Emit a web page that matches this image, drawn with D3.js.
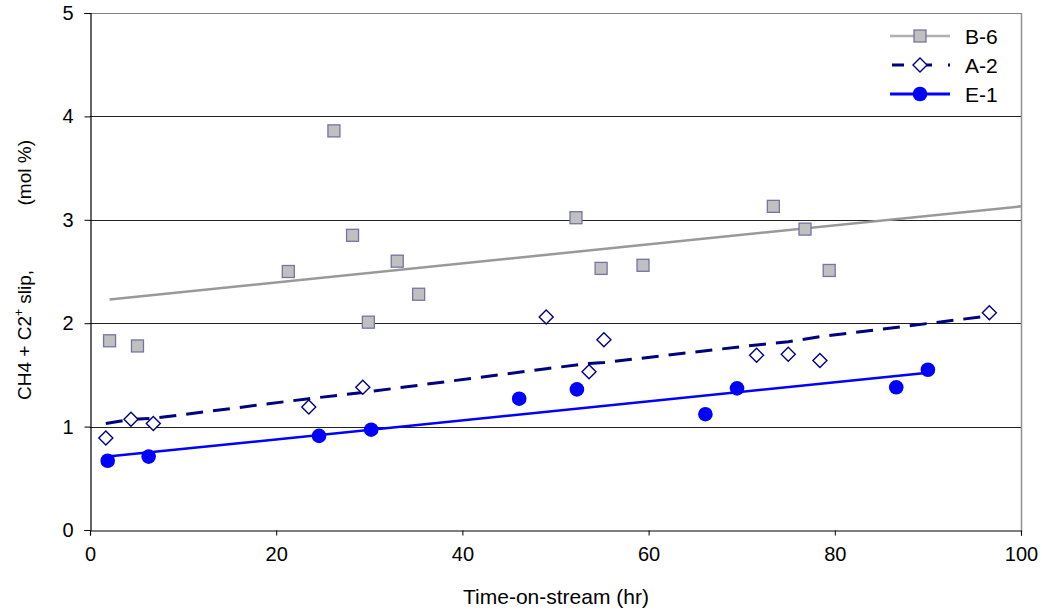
<!DOCTYPE html>
<html>
<head>
<meta charset="utf-8">
<script src="https://cdn.jsdelivr.net/npm/d3@7/dist/d3.min.js"></script>
<style>
  html, body { margin: 0; padding: 0; background: #fff; }
  svg { display: block; font-family: Arial, "Liberation Sans", sans-serif; }
</style>
</head>
<body>
<svg id="chart" width="1042" height="613"></svg>
<script>
// ---- data ----
const b6X = [2.1, 5.1, 21.3, 26.2, 28.2, 29.9, 33.0, 35.3, 52.2, 54.9, 59.4, 73.4, 76.8, 79.4];
const b6Y = [1.83, 1.78, 2.50, 3.86, 2.85, 2.01, 2.60, 2.28, 3.02, 2.53, 2.56, 3.13, 2.91, 2.51];
const b6TrendX = [2.1, 100];
const b6TrendY = [2.23, 3.13];

const a2X = [1.7, 4.4, 6.8, 23.5, 29.3, 49.0, 53.6, 55.2, 71.6, 75.0, 78.4, 96.6];
const a2Y = [0.89, 1.07, 1.03, 1.19, 1.38, 2.06, 1.53, 1.84, 1.69, 1.70, 1.64, 2.10];
const a2TrendY = [1.03, 1.07, 1.08, 1.27, 1.33, 1.56, 1.61, 1.62, 1.79, 1.82, 1.87, 2.07];

const e1X = [1.9, 6.3, 24.6, 30.2, 46.1, 52.3, 66.1, 69.5, 86.6, 90.0];
const e1Y = [0.67, 0.71, 0.91, 0.97, 1.27, 1.36, 1.12, 1.37, 1.38, 1.55];
const e1TrendX = [1.9, 90.0];
const e1TrendY = [0.71, 1.52];

const xTicks = [0, 20, 40, 60, 80, 100];
const yTicks = [0, 1, 2, 3, 4, 5];
const legendNames = ["B-6", "A-2", "E-1"];
const xTitle = "Time-on-stream (hr)";

// ---- layout ----
const svg = d3.select("#chart");
const L = 90, R = 1021, T = 13, B = 530;
const x = d3.scaleLinear().domain([0, 100]).range([L, R]);
const y = d3.scaleLinear().domain([0, 5]).range([B, T]);

// gridlines
svg.append("g").selectAll("line").data(yTicks.filter(d => d > 0)).join("line")
  .attr("x1", L).attr("x2", R)
  .attr("y1", d => Math.round(y(d)) + 0.5).attr("y2", d => Math.round(y(d)) + 0.5)
  .attr("stroke", d => d === 5 ? "#808080" : "#222").attr("stroke-width", 1);

// right border
svg.append("line").attr("x1", R + 0.5).attr("x2", R + 0.5).attr("y1", T).attr("y2", B)
  .attr("stroke", "#909090").attr("stroke-width", 1.5);

// axes
const xAxis = svg.append("g").attr("transform", `translate(0,${Math.round(B) + 0.5})`)
  .call(d3.axisBottom(x).tickValues(xTicks).tickSize(5).tickPadding(11).tickFormat(d3.format("d")));
const yAxis = svg.append("g").attr("transform", `translate(${L + 0.5},0)`)
  .call(d3.axisLeft(y).tickValues(yTicks).tickSize(6).tickPadding(11).tickFormat(d3.format("d")));
[xAxis, yAxis].forEach(g => {
  g.select(".domain").attr("stroke", "#000").attr("stroke-width", 1.2);
  g.selectAll(".tick line").attr("stroke", "#000");
  g.selectAll("text").attr("font-size", 20).attr("fill", "#000")
    .attr("font-family", "Arial, 'Liberation Sans', sans-serif");
});

// trendlines
const line = d3.line().x(d => x(d[0])).y(d => y(d[1]));
svg.append("path").datum(b6TrendX.map((v, i) => [v, b6TrendY[i]]))
  .attr("d", line).attr("fill", "none").attr("stroke", "#999999").attr("stroke-width", 2.5);
svg.append("path").datum(a2X.map((v, i) => [v, a2TrendY[i]]))
  .attr("d", line).attr("fill", "none").attr("stroke", "#000080").attr("stroke-width", 3)
  .attr("stroke-dasharray", "17,10");
svg.append("path").datum(e1TrendX.map((v, i) => [v, e1TrendY[i]]))
  .attr("d", line).attr("fill", "none").attr("stroke", "#0000ff").attr("stroke-width", 2.5);

// markers
function square(g, cx, cy) {
  g.append("rect").attr("x", cx - 6).attr("y", cy - 6).attr("width", 12).attr("height", 12)
    .attr("fill", "#c0c0c0").attr("stroke", "#7474a4").attr("stroke-width", 1.3);
}
function diamond(g, cx, cy) {
  g.append("path").attr("d", `M${cx},${cy - 7}L${cx + 7},${cy}L${cx},${cy + 7}L${cx - 7},${cy}Z`)
    .attr("fill", "#fff").attr("stroke", "#000080").attr("stroke-width", 1.4);
}
function dot(g, cx, cy) {
  g.append("circle").attr("cx", cx).attr("cy", cy).attr("r", 7.3).attr("fill", "#0000ff");
}
const gm = svg.append("g");
b6X.forEach((v, i) => square(gm, x(v), y(b6Y[i])));
a2X.forEach((v, i) => diamond(gm, x(v), y(a2Y[i])));
e1X.forEach((v, i) => dot(gm, x(v), y(e1Y[i])));

// legend
const lg = svg.append("g");
const legY = [36, 65, 94];
const legStyles = [
  {stroke: "#b0b0b0", w: 2.5, dash: null, mk: square},
  {stroke: "#000080", w: 3, dash: "12,16", mk: diamond},
  {stroke: "#0000ff", w: 3, dash: null, mk: dot}
];
legendNames.forEach((n, i) => {
  const s = legStyles[i];
  const ln = lg.append("line").attr("x1", 890).attr("x2", 950).attr("y1", legY[i]).attr("y2", legY[i])
    .attr("stroke", s.stroke).attr("stroke-width", s.w);
  if (s.dash) ln.attr("stroke-dasharray", s.dash).attr("stroke-dashoffset", -2);
  s.mk(lg, 920, legY[i]);
  lg.append("text").attr("x", 965).attr("y", legY[i]).attr("dy", "0.36em")
    .attr("font-size", 21).attr("fill", "#000").text(n);
});

// axis titles
svg.append("text").attr("x", 556).attr("y", 604).attr("text-anchor", "middle")
  .attr("font-size", 21).attr("fill", "#000").text(xTitle);
const yt = svg.append("text").attr("transform", "translate(31,400) rotate(-90)")
  .attr("text-anchor", "start").attr("font-size", 19).attr("fill", "#000");
yt.append("tspan").text("CH4 + C2");
yt.append("tspan").attr("font-size", 12).attr("dy", -8).text("+");
yt.append("tspan").attr("dy", 8).text(" slip,");
svg.append("text").attr("transform", "translate(31,140) rotate(-90)")
  .attr("text-anchor", "end").attr("font-size", 19).attr("fill", "#000").text("(mol %)");
</script>
</body>
</html>
